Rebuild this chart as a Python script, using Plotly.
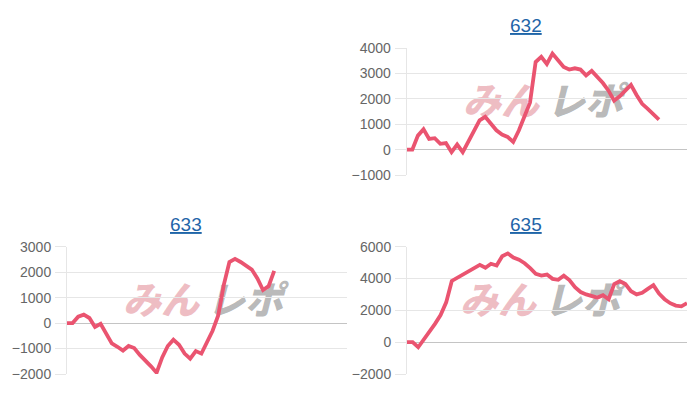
import plotly.graph_objects as go

# ---- data ----
labels = list(range(51))

titles = ["632", "633", "635"]

values_632 = [0, 0, 550, 800, 420, 450, 230, 260, -100, 200, -100, 300, 700, 1150,
              1290, 1000, 760, 590, 500, 300, 750, 1300, 1850, 3450, 3650, 3370,
              3780, 3520, 3250, 3150, 3200, 3150, 2920, 3100, 2880, 2620, 2320,
              1930, 2100, 2330, 2550, 2150, 1800, 1600, 1380, 1180]

values_633 = [0, 0, 250, 330, 200, -150, -30, -450, -800, -930, -1080, -900,
              -980, -1250, -1450, -1700, -1950, -1350, -900, -650, -850, -1200,
              -1400, -1100, -1200, -750, -300, 300, 1500, 2400, 2520, 2400, 2250,
              2100, 1750, 1300, 1450, 2050]

values_635 = [0, 0, -320, 150, 700, 1150, 1700, 2500, 3850, 4050, 4250, 4420,
              4600, 4860, 4680, 4930, 4820, 5400, 5580, 5320, 5180, 4960, 4650,
              4300, 4180, 4250, 3980, 3920, 4180, 3900, 3450, 3150, 3000, 2900,
              2800, 2950, 2700, 3650, 3830, 3650, 3200, 3000, 3100, 3350, 3580,
              3050, 2700, 2450, 2300, 2250, 2450]

y_ranges = [[-1000, 4000], [-2000, 3000], [-2000, 6000]]
y_dticks = [1000, 1000, 2000]

# ---- style ----
W, H = 700, 400
line_color = "rgb(234,84,112)"
grid_color = "#e6e6e6"
zero_color = "#c4c4c4"
tick_font = dict(family="Liberation Sans, Arial, sans-serif", size=14, color="#666666")

# panel geometry in pixels: (x0, x1, ytop, ybottom)
panels = [(406.7, 687, 48, 175), (67, 347, 246.7, 374), (407, 687, 246.7, 374)]
title_pos = [(526, 25), (185.5, 224.5), (526, 224.5)]
logo_pos = [(543, 104), (203, 303), (540, 303)]

series = [values_632, values_633, values_635]

fig = go.Figure()
layout = dict(
    width=W, height=H, autosize=False,
    margin=dict(l=0, r=0, t=0, b=0, pad=0, autoexpand=False),
    paper_bgcolor="white", plot_bgcolor="white",
    showlegend=False,
)
annotations = []
shapes = []

for k, (vals, (x0, x1, yt, yb)) in enumerate(zip(series, panels)):
    n = k + 1
    xa = "xaxis" if n == 1 else f"xaxis{n}"
    ya = "yaxis" if n == 1 else f"yaxis{n}"
    xr = "x" if n == 1 else f"x{n}"
    yr = "y" if n == 1 else f"y{n}"
    fig.add_trace(go.Scatter(
        x=labels[:len(vals)], y=vals, mode="lines",
        line=dict(color=line_color, width=3.8),
        xaxis=xr, yaxis=yr, hoverinfo="skip",
    ))
    layout[xa] = dict(
        domain=[x0 / W, x1 / W], range=[0, len(labels) - 1],
        showgrid=False, showticklabels=False, zeroline=False,
        showline=False, ticks="", anchor=yr, fixedrange=True, automargin=False,
    )
    layout[ya] = dict(
        domain=[1 - yb / H, 1 - yt / H], range=y_ranges[k], dtick=y_dticks[k],
        showgrid=True, gridcolor=grid_color, gridwidth=1,
        zeroline=True, zerolinecolor=zero_color, zerolinewidth=1,
        showline=True, linecolor=grid_color, linewidth=1,
        ticks="outside", ticklen=11, tickcolor=grid_color,
        tickfont=tick_font, ticklabelstandoff=1,
        anchor=xr, fixedrange=True, automargin=False,
    )
    tx, ty = title_pos[k]
    annotations.append(dict(
        text=titles[k], x=tx / W, y=1 - ty / H, xref="paper", yref="paper",
        xanchor="center", yanchor="middle", showarrow=False,
        font=dict(family="Liberation Sans, Arial, sans-serif", size=19,
                  color="#1f65a8", lineposition="under"),
    ))
    lx, ly = logo_pos[k]
    for txt, cx, col in (("みん", lx - 42, "rgba(228,145,155,0.6)"),
                         ("レポ", lx + 42, "rgba(140,140,140,0.62)")):
        shapes.append(dict(
            type="rect", xref="paper", yref="paper", layer="below",
            x0=(cx - 40) / W, x1=(cx + 40) / W, y0=1 - (ly + 18) / H, y1=1 - (ly - 18) / H,
            line=dict(width=0), fillcolor="rgba(0,0,0,0)",
            label=dict(text=txt, textposition="middle center", padding=0,
                       font=dict(family="Noto Sans CJK JP", size=38,
                                 color=col, weight=900, style="italic")),
        ))

layout["annotations"] = annotations
layout["shapes"] = shapes
fig.update_layout(**layout)
fig.write_html(
    "out.html",
    config={"displayModeBar": False},
    post_script="document.body.style.margin='0';document.body.style.overflow='hidden';",
)
